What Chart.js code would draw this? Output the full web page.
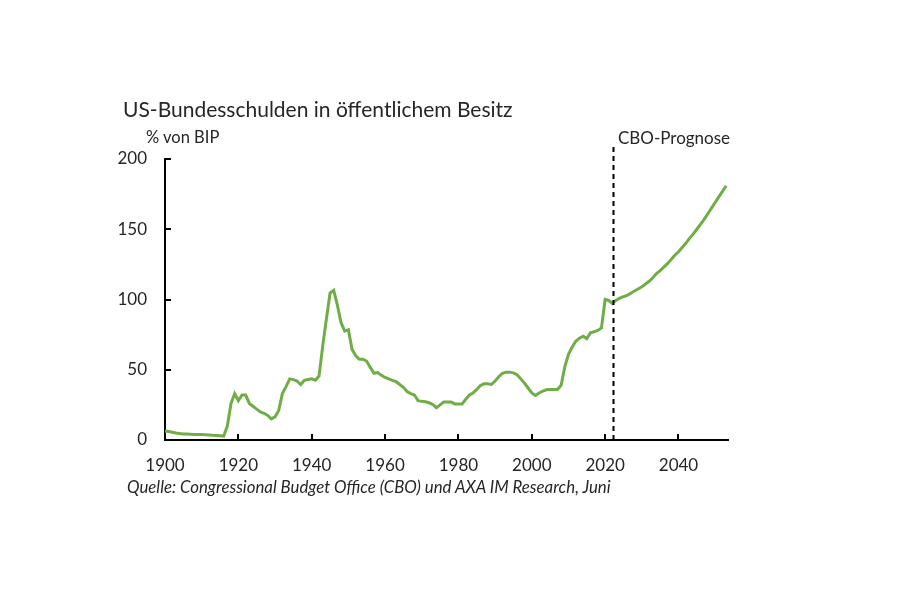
<!DOCTYPE html>
<html>
<head>
<meta charset="utf-8">
<script src="https://cdn.jsdelivr.net/npm/chart.js@4"></script>
<style>
  body { margin: 0; background: #fff; }
  #wrap { position: relative; width: 900px; height: 600px; font-family: Lato, "Noto Sans", sans-serif; color: #262626; }
  #wrap canvas { position: absolute; left: 0; top: 0; }
  .lbl { position: absolute; white-space: nowrap; line-height: 1; }
  #title { left: 123px; top: 98px; font-size: 21px; }
  #unit { left: 146px; top: 129px; font-size: 16.5px; }
  #cbo { left: 618px; top: 129px; font-size: 17px; }
  #source { left: 127px; top: 479px; font-size: 16.8px; font-style: italic; }
</style>
</head>
<body>
<div id="wrap">
  <canvas id="chartDebt" width="900" height="600"></canvas>
  <div class="lbl" id="title">US-Bundesschulden in öffentlichem Besitz</div>
  <div class="lbl" id="unit">% von BIP</div>
  <div class="lbl" id="cbo">CBO-Prognose</div>
  <div class="lbl" id="source">Quelle: Congressional Budget Office (CBO) und AXA IM Research, Juni</div>
</div>
<script>
// debt held by the public, % of GDP, one value per year from 1900 to 2053
var firstYear = 1900;
var debtValues = [
  6.5, 6.0, 5.5, 5.0, 4.6, 4.3, 4.2, 4.1, 4.0, 4.0,
  3.9, 3.7, 3.5, 3.3, 3.2, 3.0, 2.8, 10, 26, 33,
  28, 32, 32, 26, 24, 22, 20, 19, 17.5, 15,
  16.5, 21, 33, 38, 43.5, 43, 42, 39.5, 42.5, 43,
  43.5, 42.5, 45.5, 67, 86, 104.5, 106.5, 96, 83.5, 77.5,
  78.5, 64.5, 60, 57.5, 57.5, 56, 51.5, 47.5, 48, 46,
  44.5, 43.5, 42.5, 41.5, 39.5, 37.5, 34.5, 33, 32, 28,
  27.5, 27.2, 26.5, 25.3, 23, 25, 27, 27, 27, 25.7,
  25.7, 25.7, 29, 32, 33.5, 36, 38.8, 40, 40, 39.5,
  42, 45, 47.5, 48.3, 48.3, 47.8, 46.5, 43.5, 40.5, 37,
  33.5, 31.7, 33.5, 34.8, 35.7, 35.9, 35.9, 35.9, 39, 52,
  61, 66, 70.3, 72.5, 73.9, 72.2, 76.3, 77, 78, 79.8,
  100, 99.3, 97.2, 99.5, 101, 102, 103, 104.5, 106, 107.5,
  109, 111, 113, 115.5, 118.5, 120.5, 123, 125.5, 128.5, 131.5,
  134, 137, 140, 143.5, 146.5, 150, 153.5, 157, 161, 165,
  169, 173, 177, 181
];
var years = debtValues.map(function (v, i) { return firstYear + i; });
var xTickYears = [1900, 1920, 1940, 1960, 1980, 2000, 2020, 2040];
var yTickValues = [0, 50, 100, 150, 200];
var forecastStart = 2022;

(function () {
  var tickColor = '#262626';

  // short tick marks pointing into the plot, and the dashed forecast line
  var guides = {
    id: 'guides',
    afterDatasetsDraw: function (chart) {
      var ctx = chart.ctx, area = chart.chartArea;
      var x = chart.scales.x, y = chart.scales.y;
      ctx.save();
      ctx.strokeStyle = '#000';
      ctx.lineWidth = 2;
      xTickYears.forEach(function (v) {
        if (v === x.min) return;
        var px = Math.round(x.getPixelForValue(v));
        ctx.beginPath(); ctx.moveTo(px, area.bottom); ctx.lineTo(px, area.bottom - 6); ctx.stroke();
      });
      yTickValues.forEach(function (v) {
        if (v === y.min) return;
        var py = Math.round(y.getPixelForValue(v));
        ctx.beginPath(); ctx.moveTo(area.left, py); ctx.lineTo(area.left + 6, py); ctx.stroke();
      });
      var fx = Math.round(x.getPixelForValue(forecastStart)) + 1.5;
      ctx.setLineDash([5, 4]);
      ctx.beginPath(); ctx.moveTo(fx, area.top - 12); ctx.lineTo(fx, area.bottom); ctx.stroke();
      ctx.restore();
    }
  };

  var ctx = document.getElementById('chartDebt').getContext('2d');
  new Chart(ctx, {
    type: 'line',
    data: {
      labels: years,
      datasets: [{
        label: 'US-Bundesschulden',
        data: debtValues.map(function (v, i) { return { x: years[i], y: v }; }),
        borderColor: 'rgb(112, 173, 71)',
        borderWidth: 3,
        pointRadius: 0,
        tension: 0,
        fill: false
      }]
    },
    options: {
      responsive: false,
      animation: false,
      layout: { padding: { left: 0, top: 159, right: 172, bottom: 0 } },
      plugins: { legend: { display: false }, tooltip: { enabled: false }, title: { display: false } },
      scales: {
        x: {
          type: 'linear',
          min: 1900,
          max: 2053.5,
          afterFit: function (s) { s.height = 160; },
          afterBuildTicks: function (s) { s.ticks = xTickYears.map(function (v) { return { value: v }; }); },
          grid: { display: false, drawTicks: false },
          border: { display: true, color: '#000', width: 2 },
          ticks: {
            padding: 15,
            color: tickColor,
            font: { family: 'Lato', size: 17 },
            maxRotation: 0,
            autoSkip: false,
            callback: function (v) { return String(v); }
          }
        },
        y: {
          min: 0,
          max: 200,
          afterFit: function (s) { s.width = 165; },
          afterBuildTicks: function (s) { s.ticks = yTickValues.map(function (v) { return { value: v }; }); },
          grid: { display: false, drawTicks: false },
          border: { display: true, color: '#000', width: 2 },
          ticks: {
            padding: 18,
            color: tickColor,
            font: { family: 'Lato', size: 17 },
            callback: function (v) { return String(v); }
          }
        }
      }
    },
    plugins: [guides]
  });
})();
</script>
</body>
</html>
